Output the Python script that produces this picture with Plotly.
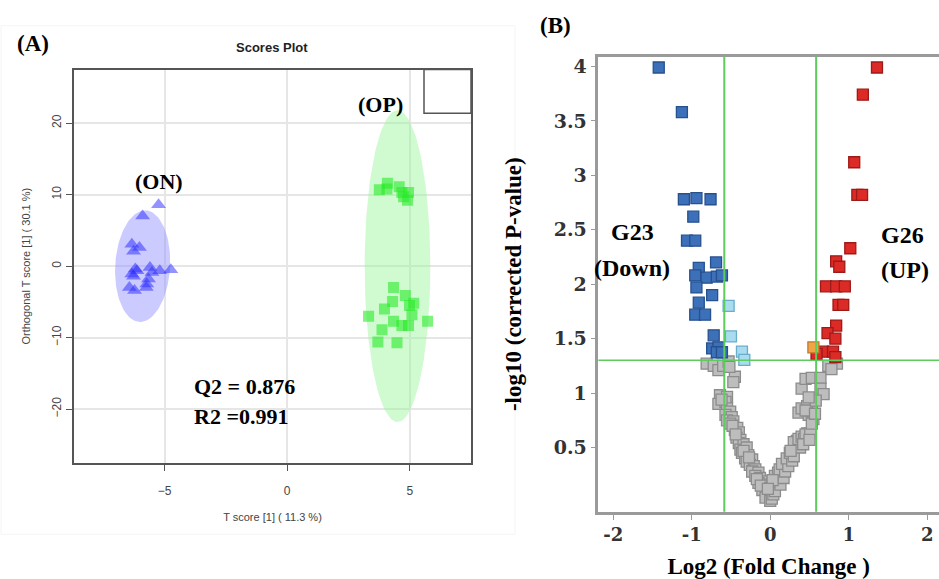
import numpy as np
import plotly.graph_objects as go

# ---------------- Panel A data (OPLS-DA scores) ----------------
on_x = [-5.25, -5.9, -6.34, -6.03, -6.27, -6.2, -5.6, -5.2, -4.75, -6.34, -6.27,
        -5.66, -5.73, -6.44, -6.23, -5.75, -6.13, -5.52]
on_y = [8.6, 7.0, 3.06, 2.6, 2.1, -0.4, -0.2, -0.65, -0.5, -1.1, -1.4,
        -1.8, -2.5, -3.0, -3.4, -3.0, -0.65, -0.9]
op_x = [4.09, 3.76, 4.07, 4.57, 4.68, 4.95, 4.75, 4.91,
        4.34, 4.82, 4.3, 5.16, 4.99, 3.97, 5.09, 3.32, 4.34, 5.73, 4.68, 4.95, 3.87, 3.7, 4.48]
op_y = [11.6, 10.7, 10.8, 11.1, 10.3, 10.3, 9.7, 9.2,
        -3.0, -4.1, -4.95, -5.2, -5.5, -6.0, -6.8, -7.0, -7.7, -7.7, -8.3, -8.3, -8.9, -10.6, -10.7]
# confidence ellipses: center x, center y, radius x, radius y, shear
on_ell = (-5.9, 0.0, 1.12, 7.8, 0.1)
op_ell = (4.5, 0.0, 1.34, 21.8, 0.0)

# ---------------- Panel B data (volcano) ----------------
down_x = [-1.42, -1.125, -1.10, -0.94, -0.76, -0.98, -1.06, -0.955, -0.69, -0.91, -0.955,
          -0.81, -0.68, -0.615, -0.94, -0.74, -0.91, -0.955, -0.83, -0.72, -0.74, -0.66,
          -0.68, -0.615]
down_y = [3.99, 3.58, 2.78, 2.79, 2.78, 2.62, 2.40, 2.40, 2.20, 2.15, 2.08,
          2.06, 2.07, 2.08, 1.97, 1.90, 1.83, 1.72, 1.72, 1.53, 1.41, 1.42,
          1.375, 1.375]
lb_x = [-0.53, -0.50, -0.36, -0.33]
lb_y = [1.80, 1.52, 1.38, 1.305]
up_x = [1.36, 1.18, 1.07, 1.11, 1.17, 1.02, 0.84, 0.88, 0.71, 0.84, 0.95,
        0.87, 0.93, 0.84, 0.73, 0.83, 0.67, 0.80, 0.59, 0.83]
up_y = [3.99, 3.74, 3.12, 2.82, 2.82, 2.33, 2.21, 2.16, 1.98, 1.98, 1.98,
        1.81, 1.81, 1.62, 1.55, 1.50, 1.38, 1.38, 1.36, 1.33]
or_x = [0.55]
or_y = [1.42]
ns_x = [-0.81, -0.72, -0.66, -0.60, -0.53, -0.45, -0.47, -0.52,
        -0.64, -0.55, -0.66, -0.57, -0.55, -0.51, -0.57, -0.49, -0.55, -0.47, -0.62,
        -0.51, -0.45, -0.42, -0.40, -0.43, -0.38, -0.40, -0.34, -0.38, -0.30, -0.48, -0.44,
        -0.36, -0.32, -0.28, -0.30, -0.23, -0.26, -0.21, -0.19, -0.23, -0.15, -0.34, -0.27,
        -0.19, -0.13, -0.11, -0.15, -0.08, -0.06, -0.10, -0.04, -0.02, -0.06, -0.17, -0.12,
        0.00, 0.02, 0.04, 0.00, 0.06, 0.09, 0.13, 0.06, 0.10, 0.17, 0.12, 0.03, -0.03,
        0.19, 0.15, 0.23, 0.21, 0.28, 0.25, 0.30, 0.32, 0.34, 0.30, 0.38, 0.26, 0.36,
        0.40, 0.43, 0.47, 0.45, 0.51, 0.36, 0.40, 0.49, 0.53, 0.55, 0.47, 0.42, 0.50,
        0.53, 0.40, 0.45, 0.53, 0.64, 0.64, 0.68, 0.45, 0.57, 0.74, 0.85, 0.78, 0.58, 0.49]
ns_y = [1.27, 1.25, 1.21, 1.25, 1.29, 1.15, 1.10, 1.24,
        0.98, 0.965, 0.90, 0.92, 0.86, 0.83, 0.80, 0.78, 0.75, 0.74, 0.94,
        0.72, 0.66, 0.68, 0.64, 0.59, 0.57, 0.54, 0.53, 0.48, 0.50, 0.70, 0.62,
        0.45, 0.40, 0.43, 0.37, 0.39, 0.34, 0.33, 0.30, 0.28, 0.27, 0.47, 0.41,
        0.24, 0.22, 0.19, 0.175, 0.16, 0.13, 0.11, 0.10, 0.07, 0.04, 0.21, 0.15,
        0.01, 0.03, 0.07, 0.13, 0.10, 0.18, 0.16, 0.24, 0.27, 0.22, 0.30, 0.20, 0.12,
        0.28, 0.35, 0.33, 0.40, 0.38, 0.45, 0.42, 0.52, 0.56, 0.55, 0.50, 0.47, 0.58,
        0.60, 0.58, 0.63, 0.62, 0.63, 0.82, 0.86, 0.80, 0.83, 0.76, 0.88, 0.53, 0.57,
        0.72, 1.04, 1.13, 1.14, 1.14, 1.04, 0.99, 0.84, 0.81, 1.25, 1.27, 1.22, 0.93, 0.96]

fc_cut = 0.585
p_cut = 1.301

fig = go.Figure()

def ellipse(e):
    cx, cy, rx, ry, sh = e
    t = np.linspace(0, 2 * np.pi, 120)
    return cx + rx * np.cos(t) + sh * np.sin(t), cy + ry * np.sin(t)

ex, ey = ellipse(on_ell)
fig.add_trace(go.Scatter(x=ex, y=ey, mode="lines", fill="toself", fillcolor="rgba(140,140,255,0.45)",
                         line=dict(width=0), hoverinfo="skip", showlegend=False, xaxis="x", yaxis="y"))
ex, ey = ellipse(op_ell)
fig.add_trace(go.Scatter(x=ex, y=ey, mode="lines", fill="toself", fillcolor="rgba(150,245,150,0.45)",
                         line=dict(width=0), hoverinfo="skip", showlegend=False, xaxis="x", yaxis="y"))
fig.add_trace(go.Scatter(x=on_x, y=on_y, mode="markers", showlegend=False,
                         marker=dict(symbol="triangle-up", size=13, color="rgba(40,40,255,0.5)", line=dict(width=0)),
                         xaxis="x", yaxis="y"))
fig.add_trace(go.Scatter(x=op_x, y=op_y, mode="markers", showlegend=False,
                         marker=dict(symbol="square", size=11, color="rgba(40,235,40,0.6)", line=dict(width=0)),
                         xaxis="x", yaxis="y"))

# volcano
def vol(xs, ys, fillc, linec):
    fig.add_trace(go.Scatter(x=xs, y=ys, mode="markers", showlegend=False,
                             marker=dict(symbol="square", size=11, color=fillc, line=dict(width=1.3, color=linec)),
                             xaxis="x2", yaxis="y2"))

vol(ns_x, ns_y, "#bdbdbd", "#8c8c8c")
vol(down_x, down_y, "#3c70b8", "#27508e")
vol(lb_x, lb_y, "#a8dcee", "#6aaccb")
vol(up_x, up_y, "#dc2a26", "#9e1a18")
vol(or_x, or_y, "#f2a545", "#c4782a")

fig.add_shape(type="line", xref="x2", yref="paper", x0=-fc_cut, x1=-fc_cut, y0=0.1117, y1=0.9033,
              line=dict(color="#5ccc5c", width=2))
fig.add_shape(type="line", xref="x2", yref="paper", x0=fc_cut, x1=fc_cut, y0=0.1117, y1=0.9033,
              line=dict(color="#5ccc5c", width=2))
fig.add_shape(type="line", xref="paper", yref="y2", x0=0.6372, x1=1.0, y0=p_cut, y1=p_cut,
              line=dict(color="#5ccc5c", width=1.5))

# legend box and faint panel frame in A
fig.add_shape(type="rect", xref="paper", yref="paper", x0=424/939, x1=471/939, y0=1-113/579, y1=1-69/579,
              line=dict(color="#555555", width=1.5))
fig.add_shape(type="rect", xref="paper", yref="paper", x0=1/939, x1=515/939, y0=1-537/579, y1=1-25/579,
              line=dict(color="#f4f4f4", width=1))

serif = "Liberation Serif"
sans = "Liberation Sans"

ann = [
    dict(text="<b>(A)</b>", x=33/939, y=1-43/579, font=dict(family=serif, size=23, color="black")),
    dict(text="<b>(B)</b>", x=555/939, y=1-25/579, font=dict(family=serif, size=23, color="black")),
    dict(text="<b>Scores Plot</b>", x=272/939, y=1-47/579, font=dict(family=sans, size=13, color="#222")),
]
for a in ann:
    fig.add_annotation(xref="paper", yref="paper", showarrow=False, xanchor="center", yanchor="middle", **a)

for t, x, y, xa in [("(ON)", -5.25, 11.8, "center"), ("(OP)", 3.8, 22.6, "center"),
                    ("Q2 = 0.876", -3.88, -16.8, "left"), ("R2 =0.991", -3.88, -21.0, "left")]:
    fig.add_annotation(xref="x", yref="y", x=x, y=y, text="<b>" + t + "</b>", showarrow=False, xanchor=xa,
                       yanchor="middle", font=dict(family=serif, size=22, color="black"))

for t, x, y in [("G23", -1.76, 2.48), ("(Down)", -1.76, 2.15), ("G26", 1.69, 2.45), ("(UP)", 1.72, 2.13)]:
    fig.add_annotation(xref="x2", yref="y2", x=x, y=y, text="<b>" + t + "</b>", showarrow=False,
                       yanchor="middle", font=dict(family=serif, size=24, color="black"))

fig.update_layout(
    width=939, height=579, margin=dict(l=0, r=0, t=0, b=0),
    paper_bgcolor="white", plot_bgcolor="white",
    xaxis=dict(domain=[74/939, 471/939], range=[-8.7, 7.5], tickvals=[-5, 0, 5],
               showgrid=True, gridcolor="#e6e6e6", gridwidth=1.5, zeroline=False,
               showline=True, mirror=True, linecolor="#555555", linewidth=1.5,
               ticks="outside", ticklen=6, tickcolor="#555555", ticklabelstandoff=10,
               tickfont=dict(family=sans, size=12, color="#444"),
               title=dict(text="T score [1] ( 11.3 %)", font=dict(family=sans, size=11, color="#444"), standoff=16)),
    yaxis=dict(domain=[1-465/579, 1-69/579], range=[-27.5, 27.5], tickvals=[-20, -10, 0, 10, 20],
               showgrid=True, gridcolor="#e6e6e6", gridwidth=1.5, zeroline=False,
               showline=True, mirror=True, linecolor="#555555", linewidth=1.5,
               ticks="outside", ticklen=6, tickcolor="#555555", tickangle=-90,
               tickfont=dict(family=sans, size=12, color="#444"),
               title=dict(text="Orthogonal T score [1] ( 30.1 %)", font=dict(family=sans, size=11, color="#444"), standoff=18)),
    xaxis2=dict(domain=[598.3/939, 1.0], range=[-2.19, 2.15], tickvals=[-2, -1, 0, 1, 2],
                ticktext=["-2", "-1", "0", "1", "2"],
                showgrid=False, zeroline=False, anchor="y2",
                showline=True, mirror=True, linecolor="#9a9a9a", linewidth=2.5,
                ticks="outside", ticklen=5, tickcolor="#9a9a9a",
                tickfont=dict(family="DejaVu Serif", size=18, color="#333", weight="bold"),
                title=dict(text="<b>Log2 (Fold Change )</b>", font=dict(family=serif, size=23, color="black"), standoff=18)),
    yaxis2=dict(domain=[0.1117, 0.9033], range=[-0.09, 4.09], tickvals=[0.5, 1, 1.5, 2, 2.5, 3, 3.5, 4],
                ticktext=["0.5", "1", "1.5", "2", "2.5", "3", "3.5", "4"],
                showgrid=False, zeroline=False, anchor="x2",
                showline=True, linecolor="#9a9a9a", linewidth=2.5,
                ticks="outside", ticklen=5, tickcolor="#9a9a9a",
                tickfont=dict(family="DejaVu Serif", size=19, color="#333", weight="bold"),
                title=dict(text="<b>-log10 (corrected P-value)</b>", font=dict(family=serif, size=23, color="black"), standoff=26)),
)

fig.write_html("out.html")
